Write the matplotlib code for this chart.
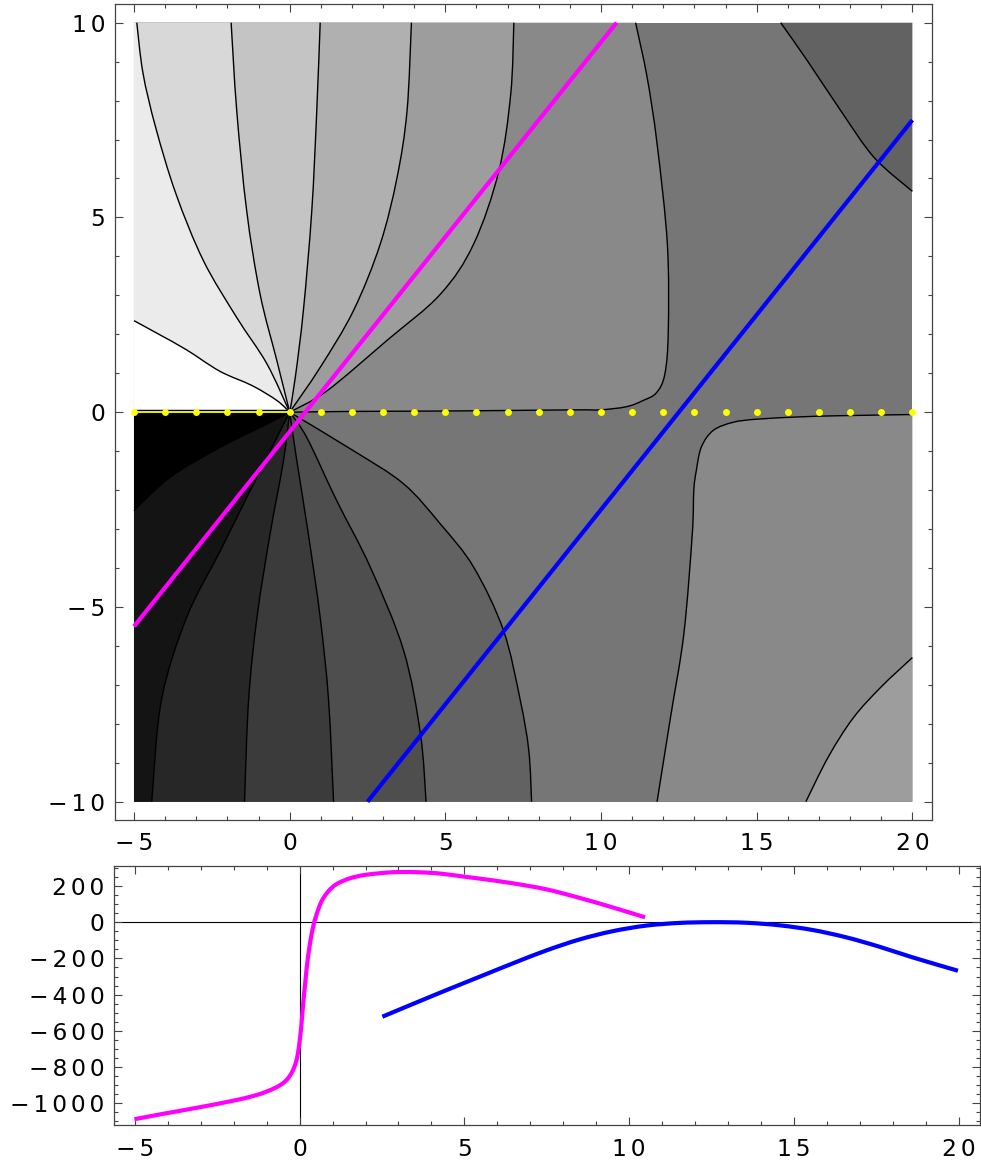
import matplotlib
matplotlib.use("Agg")
import matplotlib.pyplot as plt
from matplotlib.ticker import MultipleLocator, FuncFormatter
from matplotlib.path import Path
from matplotlib.patches import PathPatch
import numpy as np

plt.rcParams['font.family'] = ['DejaVu Sans', 'Noto Sans']
plt.rcParams['axes.unicode_minus'] = False

# ---------------- data ----------------
# contour lines of the upper half (from the origin outwards)
L1 = [(0, 0), (-0.41, 0.30), (-1.2, 0.68), (-2.24, 1.05), (-3.31, 1.6), (-4.2, 2.0), (-5, 2.35)]
L2 = [(0, 0), (-0.73, 1.24), (-1.70, 2.43), (-2.77, 3.89), (-3.65, 5.6), (-4.3, 7.3), (-4.71, 8.7), (-4.91, 10)]
L3 = [(0, 0), (-0.41, 1.32), (-0.95, 3.03), (-1.38, 5.17), (-1.70, 7.74), (-1.88, 10)]
L4 = [(0, 0), (0.18, 0.89), (0.44, 2.61), (0.71, 5.17), (0.87, 7.74), (0.98, 10)]
L5 = [(0, 0), (0.98, 1.15), (2.05, 2.61), (2.91, 4.32), (3.45, 6.03), (3.77, 7.74), (3.91, 10)]
L6 = [(0, 0), (1.2, 0.55), (3.12, 1.84), (4.84, 3.03), (5.91, 4.32), (6.72, 6.2), (7.1, 8.17), (7.2, 10)]
R_top = [(0, 0), (2, 0.02), (5, 0.03), (9.1, 0.06), (9.96, 0.06), (10.81, 0.14), (11.35, 0.30),
         (11.78, 0.50), (12.05, 0.98), (12.16, 2.09), (12.13, 4.32), (11.8, 6.89), (11.48, 8.6), (11.11, 10)]
TR = [(15.77, 10), (16.63, 9.02), (17.7, 7.74), (18.77, 6.54), (20, 5.67)]
# lower half
B1 = [(0, 0), (-0.84, -0.35), (-2.23, -0.9), (-3.84, -1.67), (-5, -2.53)]
B2 = [(0, 0), (-0.41, -0.65), (-1.16, -1.84), (-2.23, -3.56), (-3.31, -5.27), (-4.12, -7.4), (-4.43, -10)]
B3 = [(0, 0), (-0.2, -1.25), (-0.63, -3.13), (-1.05, -5.27), (-1.32, -7.4), (-1.45, -10)]
B4 = [(0, 0), (0.23, -1.25), (0.6, -3.13), (0.98, -5.27), (1.25, -7.4), (1.41, -10)]
B5 = [(0, 0), (0.55, -0.65), (1.51, -2.27), (2.59, -3.98), (3.66, -6.12), (4.2, -8.26), (4.38, -10)]
B6 = [(0, 0), (2.05, -0.99), (3.66, -1.84), (4.84, -2.87), (5.91, -3.98), (6.87, -5.61),
      (7.41, -7.41), (7.68, -8.69), (7.77, -10)]
R_bot = [(20, -0.06), (17.7, -0.09), (16.38, -0.12), (14.99, -0.18), (14.24, -0.26), (13.6, -0.47),
         (13.22, -0.9), (13.06, -1.5), (12.98, -2.0), (12.93, -3.13), (12.66, -5.69), (12.23, -7.84), (11.8, -10)]
BR = [(16.58, -10), (17.3, -8.85), (18.1, -7.85), (19.0, -7.05), (20, -6.3)]

# gray levels (0..255) of the shaded bands
gray_base = 118
upper_bands = [(R_top, 137), (L6, 157), (L5, 176), (L4, 196), (L3, 216), (L2, 235), (L1, 255)]
lower_bands = [(B6, 98), (B5, 78), (B4, 59), (B3, 39), (B2, 20), (B1, 0)]
corner_bands = [(TR, 98, (20, 10)), (R_bot, 137, (20, -10)), (BR, 157, (20, -10))]

# straight paths and integer points
magenta_path_x = [-5, 10.5]
magenta_path_y = [-5.5, 10]
blue_path_x = [2.5, 20]
blue_path_y = [-10, 7.5]
dots_x = [-5, -4, -3, -2, -1, 0, 1, 2, 3, 4, 5, 6, 7, 8, 9, 10, 11, 12, 13, 14, 15, 16, 17, 18, 19, 20]

# lower panel curves
mag_x = [-5.01, -4.04, -3.03, -2.02, -1.41, -1.01, -0.71, -0.51, -0.35, -0.22, -0.12, -0.05, 0.0, 0.05,
         0.10, 0.16, 0.22, 0.30, 0.40, 0.51, 0.66, 0.86, 1.11, 1.52, 2.02, 2.83, 3.54, 4.24, 5.05,
         5.45, 6.46, 7.47, 8.48, 9.49, 10.48]
mag_y = [-1088, -1055, -1022, -986, -960, -936, -912, -890, -862, -825, -779, -724, -660, -577,
         -467, -356, -246, -135, -34, 40, 113, 168, 209, 242, 262, 276, 276, 269, 250,
         241, 215, 182, 135, 82, 27]
blu_x = [2.51, 4.04, 5.45, 6.46, 7.47, 8.48, 9.49, 10.51, 11.52, 12.53, 13.54, 14.55, 15.56, 16.57,
         17.58, 18.59, 19.97]
blu_y = [-522, -406, -302, -228, -157, -96, -50, -19, -4, 0, -3, -17, -43, -83, -135, -194, -268]

xticks_major = [-5, 0, 5, 10, 15, 20]
yticks_top = [-10, -5, 0, 5, 10]
yticks_bot = [-1000, -800, -600, -400, -200, 0, 200]


# ---------------- helpers ----------------
def smooth_segments(pts):
    """Catmull-Rom rendering of a polyline as cubic Bezier path pieces."""
    p = [np.asarray(q, float) for q in pts]
    n = len(p)
    verts, codes = [p[0]], [Path.MOVETO]
    for i in range(n - 1):
        p0 = p[i - 1] if i > 0 else p[i]
        p1, p2 = p[i], p[i + 1]
        p3 = p[i + 2] if i + 2 < n else p[i + 1]
        c1 = p1 + (p2 - p0) / 6.0
        c2 = p2 - (p3 - p1) / 6.0
        verts += [c1, c2, p2]
        codes += [Path.CURVE4] * 3
    return verts, codes


def smooth_line(ax, pts, **kw):
    v, c = smooth_segments(pts)
    ax.add_patch(PathPatch(Path(v, c), fill=False, **kw))


def band(ax, pts, extra, color, z):
    v, c = smooth_segments(pts)
    for e in extra:
        v.append(np.asarray(e, float))
        c.append(Path.LINETO)
    v.append(v[0])
    c.append(Path.CLOSEPOLY)
    gv = color / 255.0
    ax.add_patch(PathPatch(Path(v, c), facecolor=(gv, gv, gv), edgecolor='none', lw=0, zorder=z))


def spaced(v, pos):
    s = str(int(round(v))).replace('-', '\u2212')
    return '\u2006'.join(s)


# ---------------- figure ----------------
W, H = 981, 1165
fig = plt.figure(figsize=(W / 100, H / 100), dpi=100)
ax1 = fig.add_axes([115 / W, 1 - 820 / H, (932 - 115) / W, (820 - 4) / H])
ax2 = fig.add_axes([114 / W, 1 - 1125 / H, (980 - 114) / W, (1125 - 865.7) / H])

# base domain
gb = gray_base / 255.0
ax1.fill([-5, 20, 20, -5], [-10, -10, 10, 10], color=(gb, gb, gb), lw=0, zorder=1)
z = 2
for line, col in upper_bands:
    extra = [(-5, 10), (-5, 0)] if line[-1][1] == 10 else [(-5, 0)]
    band(ax1, line, extra, col, z)
    z += 0.01
for line, col in lower_bands:
    extra = [(-5, -10), (-5, 0)] if line[-1][1] == -10 else [(-5, 0)]
    band(ax1, line, extra, col, z)
    z += 0.01
for line, col, corner in corner_bands:
    band(ax1, line, [corner], col, z)
    z += 0.01

for line in [L1, L2, L3, L4, L5, L6, R_top, TR, B1, B2, B3, B4, B5, B6, R_bot, BR]:
    smooth_line(ax1, line, edgecolor='black', lw=1.0, zorder=5, joinstyle='round')

# branch cut
ax1.plot([-5, 0], [0, 0], color='black', lw=3.2, zorder=6, solid_capstyle='butt')
ax1.plot([-5, 0], [0, 0], color='#ffff00', lw=1.3, zorder=6.1, solid_capstyle='butt')

ax1.plot(magenta_path_x, magenta_path_y, color='#ff00ff', lw=3.0, zorder=7, solid_capstyle='butt')
ax1.plot(blue_path_x, blue_path_y, color='#0000ff', lw=3.0, zorder=7, solid_capstyle='butt')
ax1.plot(dots_x, [0] * len(dots_x), 'o', color='#ffff00', ms=5.0, mec='none', zorder=8)

ax1.set_xlim(-5.61, 20.63)
ax1.set_ylim(-10.47, 10.48)

# lower panel
ax2.axhline(0, color='black', lw=0.8, zorder=1)
ax2.axvline(0, color='black', lw=0.8, zorder=1)
smooth_line(ax2, list(zip(mag_x, mag_y)), edgecolor='#ff00ff', lw=3.0, zorder=3, capstyle='butt')
smooth_line(ax2, list(zip(blu_x, blu_y)), edgecolor='#0000ff', lw=3.0, zorder=3, capstyle='butt')
ax2.set_xlim(-5.63, 20.64)
ax2.set_ylim(-1120, 312)

for ax, yt, ymin in [(ax1, yticks_top, 1), (ax2, yticks_bot, 50)]:
    ax.set_xticks(xticks_major)
    ax.set_yticks(yt)
    ax.xaxis.set_major_formatter(FuncFormatter(spaced))
    ax.yaxis.set_major_formatter(FuncFormatter(spaced))
    ax.xaxis.set_minor_locator(MultipleLocator(1))
    ax.yaxis.set_minor_locator(MultipleLocator(ymin))
    ax.tick_params(which='both', direction='in', top=True, right=True, colors='#444444',
                   labelcolor='black', labelsize=16.8, width=0.8)
    ax.tick_params(which='major', length=5.5)
    ax.tick_params(which='minor', length=3.2)
    ax.tick_params(axis='y', pad=7)
    ax.tick_params(axis='x', pad=9)
    for s in ax.spines.values():
        s.set_color('#444444')
        s.set_linewidth(0.9)

fig.savefig('out.png', dpi=100)
